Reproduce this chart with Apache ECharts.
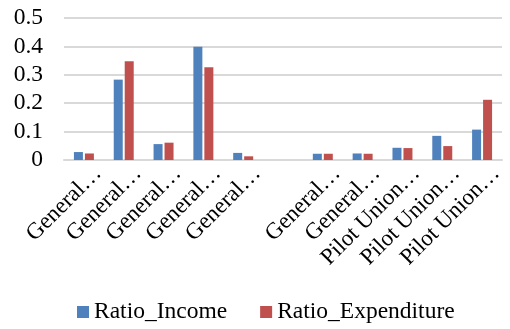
<!DOCTYPE html>
<html>
<head>
<meta charset="utf-8">
<script src="https://cdn.jsdelivr.net/npm/echarts@6/dist/echarts.min.js"></script>
<style>
  html, body { margin: 0; padding: 0; background: #fff; }
  #chart { width: 510px; height: 329px; }
</style>
</head>
<body>
<div id="chart"></div>
<script>
const categories = ['General…', 'General…', 'General…', 'General…', 'General…', '',
  'General…', 'General…', 'Pilot Union…', 'Pilot Union…', 'Pilot Union…'];
const ratioIncome = [0.028, 0.283, 0.056, 0.399, 0.025, null, 0.022, 0.023, 0.043, 0.085, 0.107];
const ratioExpenditure = [0.023, 0.348, 0.061, 0.327, 0.013, null, 0.022, 0.022, 0.042, 0.049, 0.212];
const yTicks = [0, 0.1, 0.2, 0.3, 0.4, 0.5];

const font = 'Liberation Serif, Times New Roman, serif';
const chart = echarts.init(document.getElementById('chart'));

const option = {
  animation: false,
  grid: { left: 64, right: 8, top: 18, bottom: 169 },
  legend: {
    left: 77,
    top: 300,
    padding: 0,
    icon: 'rect',
    itemWidth: 12,
    itemHeight: 12,
    itemGap: 33,
    textStyle: { fontFamily: font, fontSize: 23.5, color: '#000' },
  },
  xAxis: {
    type: 'category',
    data: categories,
    axisLine: { lineStyle: { color: '#d9d9d9', width: 2 } },
    axisTick: { show: false },
    axisLabel: {
      interval: 0,
      rotate: 45,
      margin: 24,
      padding: [0, -20, 0, 0],
      fontFamily: font,
      fontSize: 23,
      color: '#000',
    },
  },
  yAxis: {
    type: 'value',
    min: yTicks[0],
    max: yTicks[yTicks.length - 1],
    interval: 0.1,
    axisLine: { show: false },
    axisTick: { show: false },
    splitLine: { lineStyle: { color: '#d9d9d9', width: 2 } },
    axisLabel: {
      margin: 21,
      fontFamily: font,
      fontSize: 23.5,
      color: '#000',
      formatter: v => (v === 0 ? '0' : v.toFixed(1)),
    },
  },
  series: [
    {
      name: 'Ratio_Income',
      type: 'bar',
      barWidth: 9,
      barGap: '22%',
      itemStyle: { color: '#4F81BD' },
      data: ratioIncome,
    },
    {
      name: 'Ratio_Expenditure',
      type: 'bar',
      barWidth: 9,
      itemStyle: { color: '#C0504D' },
      data: ratioExpenditure,
    },
  ],
};

chart.setOption(option);
</script>
</body>
</html>
